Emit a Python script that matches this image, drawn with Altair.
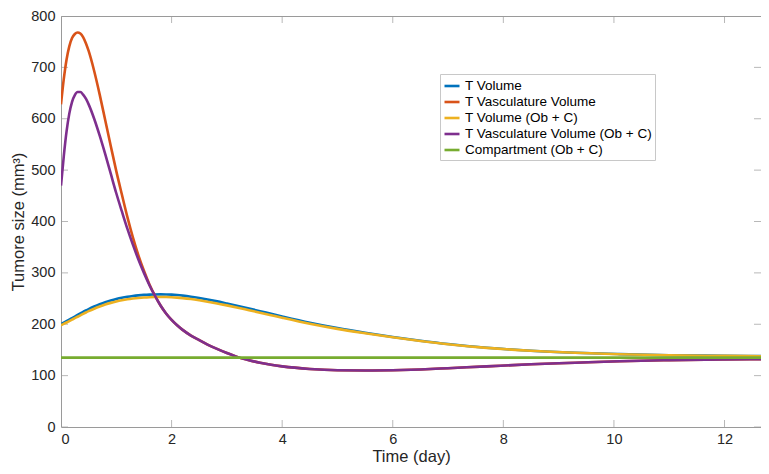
import altair as alt
import pandas as pd

# ---- data ----
T = [0, 0.05, 0.1, 0.15, 0.2, 0.25, 0.3, 0.35, 0.4, 0.45, 0.5, 0.6, 0.7, 0.8, 0.9, 1.0,
     1.1, 1.2, 1.3, 1.4, 1.5, 1.6, 1.7, 1.8, 1.9, 2.0, 2.1, 2.2, 2.35, 2.5, 2.65, 2.8,
     3.0, 3.2, 3.4, 3.6, 3.8, 4.0, 4.5, 5.0, 5.5, 6.0, 6.5, 7.0, 7.7, 8.5, 9.3, 10.1,
     11.0, 12.0, 12.8]

t_volume = [200, 203, 206, 209, 212, 215, 218, 221, 224, 226.8, 229.5, 234.5, 239, 243,
            246.3, 249.2, 251.6, 253.5, 255, 256.2, 257.1, 257.7, 258, 258.1, 258, 257.6,
            256.8, 255.7, 253.6, 251, 248.1, 245, 240.4, 235.6, 230.6, 225.5, 220.3, 215.2,
            203, 192.5, 183.5, 175.3, 168, 161.5, 154.3, 148.5, 144.6, 141.9, 139.8, 138.5,
            137.8]

t_vasc = [628, 677, 715, 741, 757, 765, 768, 766, 759, 747, 732, 693, 647, 597, 547, 498,
          453, 409, 369, 334, 304, 277.5, 255.5, 236.5, 221, 208.5, 198, 189, 178, 169,
          160.5, 153, 144, 136, 130, 125, 121, 118, 113, 110.5, 110, 110.5, 112, 114.5,
          118, 122, 125, 128, 130, 131.5, 132]

t_volume_obc = [198, 200.6, 203.4, 206.2, 209, 211.8, 214.6, 217.4, 220.2, 222.9, 225.5,
                230.3, 234.6, 238.4, 241.6, 244.3, 246.6, 248.5, 250, 251.2, 252.1, 252.7,
                253, 253.1, 253, 252.6, 251.9, 250.9, 249, 246.6, 243.9, 241, 236.7, 232.1,
                227.3, 222.5, 217.6, 212.7, 201, 191, 182.5, 174.6, 167.5, 161.2, 154,
                148.3, 144.4, 141.7, 139.7, 138.4, 137.7]

t_vasc_obc = [470, 527, 575, 610, 633, 646, 652, 652, 647, 639, 628, 600, 567, 531, 493, 455,
              420, 386, 355, 326, 300, 276, 255, 236.5, 221, 208.5, 198, 189, 178, 169,
              160.5, 153, 144, 136, 130, 125, 121, 118, 113, 110.5, 110, 110.5, 112, 114.5,
              118, 122, 125, 128, 130, 131.5, 132]

compartment = [135] * len(T)

names = ["T Volume", "T Vasculature Volume", "T Volume (Ob + C)",
         "T Vasculature Volume (Ob + C)", "Compartment (Ob + C)"]
colors = ["#0072BD", "#D95319", "#EDB120", "#7E2F8E", "#77AC30"]
series = [t_volume, t_vasc, t_volume_obc, t_vasc_obc, compartment]

x_ticks = [0, 2, 4, 6, 8, 10, 12]
y_ticks = [0, 100, 200, 300, 400, 500, 600, 700, 800]
x_max = 12.66
y_max = 800

rows = []
for name, vals in zip(names, series):
    for t, v in zip(T, vals):
        rows.append({"t": t, "v": v, "series": name})
df = pd.DataFrame(rows)

FRAME = "#9a9a9a"
TEXT = "#262626"
FONT = "Liberation Sans"

x_enc = alt.X("t:Q",
              scale=alt.Scale(domain=[0, x_max], nice=False, zero=False),
              axis=alt.Axis(values=x_ticks, format="d", title="Time (day)", grid=False,
                            domain=False, tickSize=0, labelPadding=5, titlePadding=3,
                            labelFontSize=14.5, titleFontSize=16.5))
y_enc = alt.Y("v:Q",
              scale=alt.Scale(domain=[0, y_max], nice=False),
              axis=alt.Axis(values=y_ticks, format="d", title="Tumore size (mm³)", grid=False,
                            domain=False, tickSize=0, labelPadding=6, titlePadding=4,
                            labelFontSize=14.5, titleFontSize=16.5))
color_enc = alt.Color("series:N",
                      scale=alt.Scale(domain=names, range=colors),
                      legend=alt.Legend(title=None, orient="none", legendX=379, legendY=58,
                                        symbolType="stroke", symbolSize=225,
                                        symbolStrokeWidth=2.6, labelFontSize=13.5,
                                        labelColor="#000000", labelOffset=4,
                                        padding=3, rowPadding=-4,
                                        strokeColor="#c8c8c8", fillColor="#ffffff",
                                        labelLimit=400))

layers = []
for name in names:
    layers.append(
        alt.Chart(df).transform_filter(alt.datum.series == name)
        .mark_line(strokeWidth=2.6, interpolate="monotone", clip=True)
        .encode(x=x_enc, y=y_enc, color=color_enc)
    )

xt = pd.DataFrame({"t": x_ticks})
yt = pd.DataFrame({"v": y_ticks})
tick_style = dict(color=FRAME, size=14, thickness=1, clip=True)

ticks = [
    alt.Chart(xt).mark_tick(orient="vertical", **tick_style).encode(x="t:Q", y=alt.datum(0)),
    alt.Chart(xt).mark_tick(orient="vertical", **tick_style).encode(x="t:Q", y=alt.datum(y_max)),
    alt.Chart(yt).mark_tick(orient="horizontal", **tick_style).encode(y="v:Q", x=alt.datum(0)),
    alt.Chart(yt).mark_tick(orient="horizontal", **tick_style).encode(y="v:Q", x=alt.datum(x_max)),
]

chart = alt.layer(*ticks, *layers).properties(
    width=700, height=411,
    autosize=alt.AutoSizeParams(type="none"),
    padding={"left": 53, "top": 8, "right": 0, "bottom": 39},
).configure_view(
    stroke=FRAME, strokeWidth=1
).configure_axis(
    labelFont=FONT, titleFont=FONT, labelColor=TEXT, titleColor=TEXT,
    titleFontWeight="normal"
).configure_legend(
    labelFont=FONT
)

chart.save("out.html", embed_options={"renderer": "svg", "actions": False})
